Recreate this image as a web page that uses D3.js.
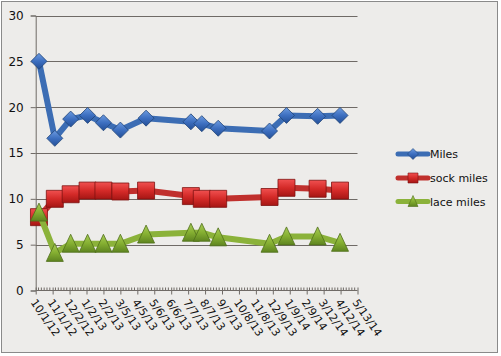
<!DOCTYPE html>
<html><head><meta charset="utf-8">
<script src="https://cdn.jsdelivr.net/npm/d3@7"></script>
<style>html,body{margin:0;padding:0;background:#fff;}svg{display:block;}</style>
</head><body>
<svg id="c" width="501" height="356"></svg>
<script>
const dates = ["2012-10-07","2012-11-05","2012-12-04","2013-01-04","2013-02-02","2013-03-05","2013-04-21","2013-07-12","2013-08-01","2013-08-31","2013-12-03","2014-01-03","2014-03-01","2014-04-11"];
const miles = [25.0,16.6,18.7,19.1,18.3,17.5,18.8,18.4,18.2,17.7,17.4,19.1,19.0,19.1];
const sockMiles = [8.0,10.0,10.5,10.9,10.9,10.8,10.9,10.3,10.0,10.0,10.2,11.2,11.1,10.9];
const laceMiles = [8.5,4.1,5.1,5.1,5.1,5.1,6.1,6.3,6.3,5.8,5.1,5.9,5.9,5.2];
const seriesNames = ["Miles","sock miles","lace miles"];
const yTicks = [0,5,10,15,20,25,30];
const xTickLabels = ["10/1/12","11/1/12","12/2/12","1/2/13","2/2/13","3/5/13","4/5/13","5/6/13","6/6/13","7/7/13","8/7/13","9/7/13","10/8/13","11/8/13","12/9/13","1/9/14","2/9/14","3/12/14","4/12/14","5/13/14"];

const parse = d3.timeParse("%Y-%m-%d");
const parseTick = d3.timeParse("%m/%d/%y");
const tickDates = xTickLabels.map(parseTick);
const svg = d3.select("#c");

// background + border
svg.append("rect").attr("x",1.5).attr("y",1.5).attr("width",496).attr("height",351)
  .attr("fill","#edecea").attr("stroke","#8a8a8a").attr("stroke-width",1);

const x = d3.scaleTime().domain([tickDates[0], tickDates[tickDates.length-1]]).range([35.7,357.5]);
const y = d3.scaleLinear().domain([0,30]).range([290.5,15.5]);

// gridlines
svg.append("g").selectAll("line").data(yTicks.filter(d=>d>0)).join("line")
  .attr("x1",35.7).attr("x2",357.5).attr("y1",d=>Math.round(y(d))+0.5).attr("y2",d=>Math.round(y(d))+0.5)
  .attr("stroke","#6f6a66").attr("stroke-width",1);

// y axis
const yAxis = d3.axisLeft(y).tickValues(yTicks).tickSize(5).tickPadding(7);
const gy = svg.append("g").attr("transform","translate(35.7,0)").call(yAxis);
gy.select(".domain").attr("stroke","#6f6a66");
gy.selectAll(".tick line").attr("stroke","#6f6a66");
gy.selectAll(".tick text").attr("font-family","DejaVu Sans, Verdana, sans-serif").attr("font-size",12).attr("fill","#111");

// x axis minor ticks
const minor = [];
for (let i=0;i<tickDates.length-1;i++){
  const a=+tickDates[i], b=+tickDates[i+1];
  for (let k=1;k<6;k++) minor.push(new Date(a+(b-a)*k/6));
}
svg.append("g").selectAll("line").data(minor).join("line")
  .attr("x1",d=>x(d)).attr("x2",d=>x(d)).attr("y1",287.5).attr("y2",290.5)
  .attr("stroke","#6f6a66").attr("stroke-width",1);

const xAxis = d3.axisBottom(x).tickValues(tickDates).tickSize(4).tickFormat((d,i)=>xTickLabels[i]);
const gx = svg.append("g").attr("transform","translate(0,290.5)").call(xAxis);
gx.select(".domain").attr("stroke","#6f6a66").attr("d","M35.7,0H357.5");
gx.selectAll(".tick line").attr("stroke","#6f6a66").attr("y1",-3);
gx.selectAll(".tick text").attr("font-family","DejaVu Sans, Verdana, sans-serif").attr("font-size",11).attr("fill","#111")
  .attr("text-anchor","start").attr("dy","0").attr("y",0)
  .attr("transform","translate(-6,12) rotate(55)");

// gradients
const defs = svg.append("defs");
function grad(id, light, mid, dark){
  const g = defs.append("linearGradient").attr("id",id).attr("x1",0).attr("y1",0).attr("x2",0).attr("y2",1);
  g.append("stop").attr("offset","0%").attr("stop-color",light);
  g.append("stop").attr("offset","50%").attr("stop-color",mid);
  g.append("stop").attr("offset","100%").attr("stop-color",dark);
}
grad("gb","#6d9be0","#3d6fc0","#234e96");
grad("gr","#f05050","#d42a28","#a51614");
grad("gg","#a8cc58","#86b032","#5e8420");

const series = [
  {name:seriesNames[0], vals:miles, color:"#3c6db4", fill:"url(#gb)", stroke:"#1f4477", shape:"diamond"},
  {name:seriesNames[1], vals:sockMiles, color:"#c0302d", fill:"url(#gr)", stroke:"#7e1210", shape:"square"},
  {name:seriesNames[2], vals:laceMiles, color:"#8bb23a", fill:"url(#gg)", stroke:"#4f6e1a", shape:"triangle"}
];

function shapePath(shape, s){
  const h=s/2;
  if (shape==="diamond") return `M0,${-h}L${h},0L0,${h}L${-h},0Z`;
  if (shape==="square") return `M${-h},${-h}H${h}V${h}H${-h}Z`;
  return `M0,${-h-1}L${h},${h}L${-h},${h}Z`;
}

const line = d3.line().x(d=>x(d.d)).y(d=>y(d.v));
series.forEach(s=>{
  const pts = dates.map((d,i)=>({d:parse(d), v:s.vals[i]}));
  const g = svg.append("g");
  g.append("path").datum(pts).attr("d",line).attr("fill","none").attr("stroke",s.color)
    .attr("stroke-width",6).attr("stroke-linejoin","round");
  const size = s.shape==="diamond"?16:17;
  g.selectAll("path.m").data(pts).join("path").attr("class","m")
    .attr("transform",d=>`translate(${x(d.d)},${y(d.v)})`)
    .attr("d",shapePath(s.shape,size)).attr("fill",s.fill).attr("stroke",s.stroke).attr("stroke-width",0.8);
});

// legend
const legY = [154,178,201.5];
series.forEach((s,i)=>{
  const g = svg.append("g").attr("transform",`translate(0,${legY[i]})`);
  g.append("line").attr("x1",398).attr("x2",428).attr("y1",0).attr("y2",0).attr("stroke",s.color).attr("stroke-width",5).attr("stroke-linecap","round");
  g.append("path").attr("transform","translate(413,0)").attr("d",shapePath(s.shape,s.shape==="diamond"?11:10))
    .attr("fill",s.fill).attr("stroke",s.stroke).attr("stroke-width",0.6);
  g.append("text").attr("x",430).attr("y",4).text(s.name)
    .attr("font-family","DejaVu Sans, Verdana, sans-serif").attr("font-size",11).attr("fill","#111");
});
</script>
</body></html>
